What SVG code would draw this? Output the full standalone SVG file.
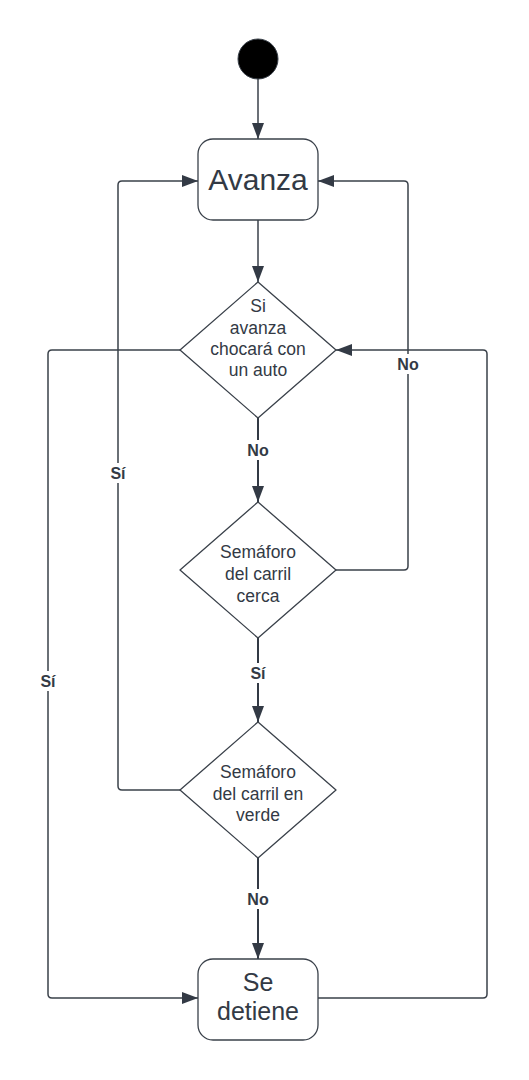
<svg xmlns="http://www.w3.org/2000/svg" width="529" height="1080" viewBox="0 0 529 1080">
<style>
.node{fill:#ffffff;stroke:#3a414a;stroke-width:1.3}
.t{font-family:"Liberation Sans",Arial,sans-serif;fill:#333a45;text-anchor:middle}
.big{font-size:30px}
.mid{font-size:25px}
.sm{font-size:17.5px}
.lbl{font-family:"Liberation Sans",Arial,sans-serif;font-size:16px;font-weight:bold;fill:#333a45;text-anchor:middle}
.c{fill:none;stroke:#3a414a;stroke-width:1.5;stroke-linejoin:round}
.cb{fill:none;stroke:#333a45;stroke-width:2}
.bg{fill:#ffffff}
</style>
<defs>
<marker id="ah" markerUnits="userSpaceOnUse" markerWidth="16" markerHeight="12" refX="16" refY="6" orient="auto">
<path d="M0,0 L16,6 L0,12 z" fill="#333a45"/>
</marker>
</defs>
<rect width="529" height="1080" fill="#ffffff"/>
<g id="connectors">
<path class="c" d="M258,79 V139" marker-end="url(#ah)"/>
<path class="c" d="M258,220 V282" marker-end="url(#ah)"/>
<path class="cb" d="M258,418 V502" marker-end="url(#ah)"/>
<path class="cb" d="M258,638 V722" marker-end="url(#ah)"/>
<path class="cb" d="M258,858 V959" marker-end="url(#ah)"/>
<path class="c" d="M180,350 H52 Q48,350 48,354 V994 Q48,998 52,998 H198" marker-end="url(#ah)"/>
<path class="c" d="M336,570 H404 Q408,570 408,566 V185 Q408,181 404,181 H318" marker-end="url(#ah)"/>
<path class="c" d="M180,790 H122 Q118,790 118,786 V185 Q118,181 122,181 H198" marker-end="url(#ah)"/>
<path class="c" d="M318,998 H483 Q487,998 487,994 V354 Q487,350 483,350 H336" marker-end="url(#ah)"/>
<rect class="bg" x="244" y="440" width="28" height="20"/>
<text class="lbl" x="258" y="456">No</text>
<rect class="bg" x="246" y="663" width="24" height="20"/>
<text class="lbl" x="258" y="679">Sí</text>
<rect class="bg" x="244" y="889" width="28" height="20"/>
<text class="lbl" x="258" y="905">No</text>
<rect class="bg" x="36" y="671" width="24" height="20"/>
<text class="lbl" x="48" y="687">Sí</text>
<rect class="bg" x="106" y="463" width="24" height="20"/>
<text class="lbl" x="118" y="479">Sí</text>
<rect class="bg" x="394" y="354" width="28" height="20"/>
<text class="lbl" x="408" y="370">No</text>
</g>
<g id="start">
<circle cx="258" cy="59" r="20" fill="#000000" stroke="#3a414a" stroke-width="1"/>
</g>
<g id="avanza">
<rect class="node" x="198" y="139" width="120" height="81" rx="15"/>
<text class="t big" x="258" y="190">Avanza</text>
</g>
<g id="decision1">
<path class="node" d="M258,282 L336,350 L258,418 L180,350 Z" stroke-linejoin="round"/>
<text class="t sm" x="258" y="312">Si</text>
<text class="t sm" x="258" y="334">avanza</text>
<text class="t sm" x="258" y="355">chocará con</text>
<text class="t sm" x="258" y="376">un auto</text>
</g>
<g id="decision2">
<path class="node" d="M258,502 L336,570 L258,638 L180,570 Z" stroke-linejoin="round"/>
<text class="t sm" x="258" y="558">Semáforo</text>
<text class="t sm" x="258" y="580">del carril</text>
<text class="t sm" x="258" y="602">cerca</text>
</g>
<g id="decision3">
<path class="node" d="M258,722 L336,790 L258,858 L180,790 Z" stroke-linejoin="round"/>
<text class="t sm" x="258" y="778">Semáforo</text>
<text class="t sm" x="258" y="800">del carril en</text>
<text class="t sm" x="258" y="821">verde</text>
</g>
<g id="detiene">
<rect class="node" x="198" y="959" width="120" height="81" rx="15"/>
<text class="t mid" x="258" y="991">Se</text>
<text class="t mid" x="258" y="1020">detiene</text>
</g>
</svg>
